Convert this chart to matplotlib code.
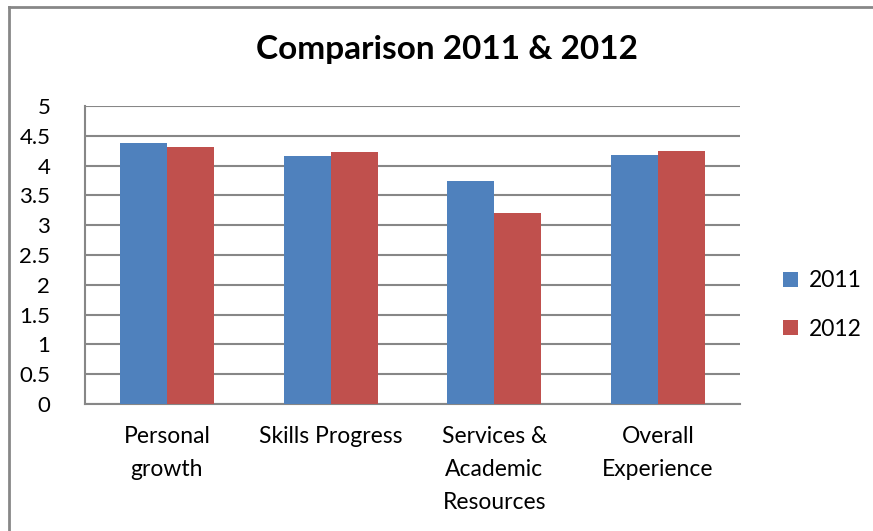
import numpy as np
import matplotlib.pyplot as plt
from matplotlib.lines import Line2D

# chart data
categories = ["Personal\ngrowth", "Skills Progress", "Services &\nAcademic\nResources", "Overall\nExperience"]
values_2011 = [4.38, 4.16, 3.75, 4.18]
values_2012 = [4.31, 4.22, 3.20, 4.25]
series_labels = ["2011", "2012"]
yticks = [0, 0.5, 1, 1.5, 2, 2.5, 3, 3.5, 4, 4.5, 5]
ytick_labels = ["0", "0.5", "1", "1.5", "2", "2.5", "3", "3.5", "4", "4.5", "5"]

plt.rcParams['font.family'] = ['Lato', 'DejaVu Sans']

fig = plt.figure(figsize=(8.73, 5.31), dpi=100)
ax = fig.add_axes([85 / 873, 1 - 404 / 531, 655 / 873, 298 / 531])

x = np.arange(len(categories))
w = 0.287
ax.bar(x - w / 2, values_2011, width=w, color='#4f81bd', label=series_labels[0], zorder=3)
ax.bar(x + w / 2, values_2012, width=w, color='#c0504d', label=series_labels[1], zorder=3)

ax.set_xlim(-0.5, len(categories) - 0.5)
ax.set_ylim(0, 5)
ax.set_yticks(yticks)
ax.set_yticklabels(ytick_labels, fontsize=16)
ax.set_xticks(x)
ax.set_xticklabels(categories, fontsize=16.5, linespacing=1.7)
ax.tick_params(axis='both', length=0)
ax.tick_params(axis='y', pad=25)
ax.tick_params(axis='x', pad=16)
for lbl in ax.get_yticklabels():
    lbl.set_horizontalalignment('right')

ax.grid(axis='y', color='#878787', linewidth=1.5, zorder=0)
for side in ['top', 'right']:
    ax.spines[side].set_visible(False)
ax.spines['left'].set_color('#878787')
ax.spines['bottom'].set_color('#878787')
ax.spines['left'].set_linewidth(1.5)
ax.spines['bottom'].set_linewidth(1.5)

fig.text(447 / 873, 1 - 50 / 531, "Comparison 2011 & 2012", ha='center', va='center',
         fontsize=24, fontweight='bold')

ax.legend(loc='center left', bbox_to_anchor=(762 / 873, 1 - 305 / 531),
          bbox_transform=fig.transFigure, frameon=False, fontsize=16.5,
          handlelength=0.65, handleheight=0.65, handletextpad=0.5, labelspacing=1.2)

# outer chart border (left and top only are visible)
fig.add_artist(Line2D([8.5 / 873, 8.5 / 873], [0, 1 - 7 / 531], color='#878787', linewidth=2))
fig.add_artist(Line2D([8.5 / 873, 1], [1 - 7 / 531, 1 - 7 / 531], color='#878787', linewidth=2))

fig.savefig('out.png', dpi=100)
